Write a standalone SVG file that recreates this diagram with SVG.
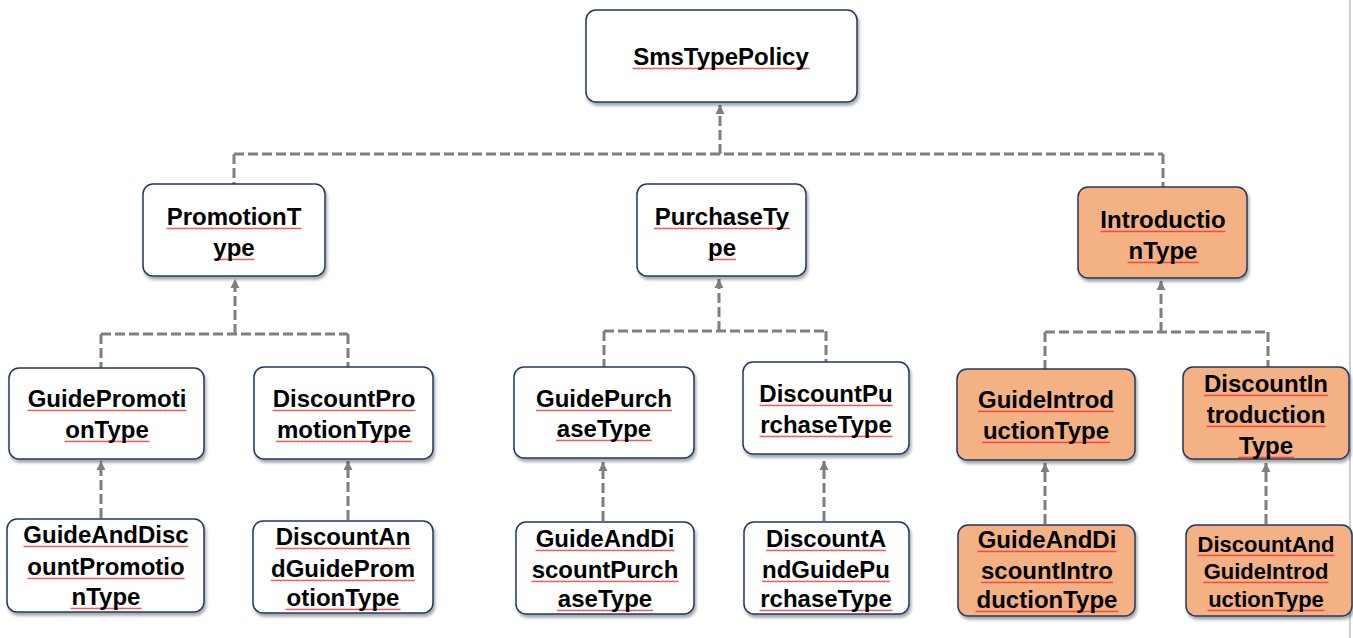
<svg xmlns="http://www.w3.org/2000/svg" width="1353" height="638" viewBox="0 0 1353 638">
<defs>
<filter id="sh" x="-10%" y="-10%" width="130%" height="140%">
<feDropShadow dx="1.5" dy="3" stdDeviation="1.8" flood-color="#000" flood-opacity="0.35"/>
</filter>
<marker id="up" markerUnits="userSpaceOnUse" markerWidth="10" markerHeight="10" refX="5" refY="0" viewBox="0 0 10 10" orient="0">
<path d="M5 0 L9.5 9 L0.5 9 Z" fill="#7f7f7f"/>
</marker>
<pattern id="wv" patternUnits="userSpaceOnUse" width="4" height="3">
<path d="M0 2.3 L1 0.7 L2 2.3 L3 0.7 L4 2.3" fill="none" stroke="#ff2a2a" stroke-width="0.8"/>
</pattern>
</defs>
<style>
.n rect{fill:#fff;stroke:#1f3864;stroke-width:1.5;filter:url(#sh)}
.o rect{fill:#f4b183}
.n rect.w{fill:url(#wv);stroke:none;filter:none}
text{font-family:"Liberation Sans",Arial,sans-serif;font-weight:bold;font-size:24px;fill:#000;text-anchor:middle}
.s text{font-size:22px}
.c path{fill:none;stroke:#7f7f7f;stroke-width:3;stroke-dasharray:10 4}
.c .a{marker-end:url(#up)}
</style>
<rect x="0" y="0" width="1353" height="638" fill="#fff"/>
<line x1="1350" y1="0" x2="1350" y2="638" stroke="#cfcfcf" stroke-width="2"/>
<g id="connectors" class="c">
<path class="a" d="M720 154 V105"/>
<path d="M234 154 H1163"/>
<path d="M234 154 V184"/>
<path d="M1163 154 V187"/>
<path class="a" d="M235 334 V279"/>
<path d="M101 334 H348"/>
<path d="M101 334 V368"/>
<path d="M348 334 V367"/>
<path class="a" d="M719 331 V279"/>
<path d="M604 331 H826"/>
<path d="M604 331 V367"/>
<path d="M826 331 V362"/>
<path class="a" d="M1161 332 V281"/>
<path d="M1045 332 H1268"/>
<path d="M1045 332 V369"/>
<path d="M1268 332 V367"/>
<path class="a" d="M101 518 V461"/>
<path class="a" d="M348 520 V461"/>
<path class="a" d="M603 521 V462"/>
<path class="a" d="M824 521 V461"/>
<path class="a" d="M1045 524 V463"/>
<path class="a" d="M1266 524 V463"/>
</g>
<g id="SmsTypePolicy" class="n"><rect x="586" y="10" width="271" height="92" rx="10"/><rect class="w" transform="translate(632.5 67)" width="177" height="3"/><text x="721" y="65">SmsTypePolicy</text></g>
<g id="PromotionType" class="n"><rect x="143" y="184" width="182" height="92" rx="10"/><rect class="w" transform="translate(166.5 227)" width="135" height="3"/><rect class="w" transform="translate(213.5 258)" width="41" height="3"/><text x="234" y="225">PromotionT</text><text x="234" y="256">ype</text></g>
<g id="PurchaseType" class="n"><rect x="637" y="184" width="169" height="92" rx="10"/><rect class="w" transform="translate(654 227)" width="136" height="3"/><rect class="w" transform="translate(708 258)" width="28" height="3"/><text x="722" y="225">PurchaseTy</text><text x="722" y="256">pe</text></g>
<g id="IntroductionType" class="n o"><rect x="1078" y="187" width="169" height="91" rx="10"/><rect class="w" transform="translate(1100.5 230)" width="125" height="3"/><rect class="w" transform="translate(1127.5 261)" width="71" height="3"/><text x="1163" y="228">Introductio</text><text x="1163" y="259">nType</text></g>
<g id="GuidePromotionType" class="n"><rect x="9" y="368" width="195" height="91" rx="10"/><rect class="w" transform="translate(27.5 409)" width="159" height="3"/><rect class="w" transform="translate(64.5 440)" width="85" height="3"/><text x="107" y="407">GuidePromoti</text><text x="107" y="438">onType</text></g>
<g id="DiscountPromotionType" class="n"><rect x="254" y="367" width="179" height="92" rx="10"/><rect class="w" transform="translate(272.5 409)" width="143" height="3"/><rect class="w" transform="translate(276 440)" width="136" height="3"/><text x="344" y="407">DiscountPro</text><text x="344" y="438">motionType</text></g>
<g id="GuidePurchaseType" class="n"><rect x="514" y="367" width="180" height="91" rx="10"/><rect class="w" transform="translate(536 409)" width="136" height="3"/><rect class="w" transform="translate(556 439)" width="96" height="3"/><text x="604" y="407">GuidePurch</text><text x="604" y="437">aseType</text></g>
<g id="DiscountPurchaseType" class="n"><rect x="743" y="362" width="166" height="92" rx="10"/><rect class="w" transform="translate(759.5 404)" width="133" height="3"/><rect class="w" transform="translate(759.5 435)" width="133" height="3"/><text x="826" y="402">DiscountPu</text><text x="826" y="433">rchaseType</text></g>
<g id="GuideIntroductionType" class="n o"><rect x="957" y="369" width="178" height="91" rx="10"/><rect class="w" transform="translate(978 410)" width="136" height="3"/><rect class="w" transform="translate(982 441)" width="128" height="3"/><text x="1046" y="408">GuideIntrod</text><text x="1046" y="439">uctionType</text></g>
<g id="DiscountIntroductionType" class="n o"><rect x="1183" y="367" width="166" height="92" rx="10"/><rect class="w" transform="translate(1204 394)" width="124" height="3"/><rect class="w" transform="translate(1206.5 425)" width="119" height="3"/><rect class="w" transform="translate(1238 456)" width="56" height="3"/><text x="1266" y="392">DiscountIn</text><text x="1266" y="423">troduction</text><text x="1266" y="454">Type</text></g>
<g id="GuideAndDiscountPromotionType" class="n"><rect x="7" y="519" width="197" height="93" rx="10"/><rect class="w" transform="translate(23.5 545)" width="165" height="3"/><rect class="w" transform="translate(27.5 577)" width="157" height="3"/><rect class="w" transform="translate(70.5 607)" width="71" height="3"/><text x="106" y="543">GuideAndDisc</text><text x="106" y="575">ountPromotio</text><text x="106" y="605">nType</text></g>
<g id="DiscountAndGuidePromotionType" class="n"><rect x="253" y="521" width="180" height="92" rx="10"/><rect class="w" transform="translate(275.5 547)" width="135" height="3"/><rect class="w" transform="translate(271 579)" width="144" height="3"/><rect class="w" transform="translate(285.5 608)" width="115" height="3"/><text x="343" y="545">DiscountAn</text><text x="343" y="577">dGuideProm</text><text x="343" y="606">otionType</text></g>
<g id="GuideAndDiscountPurchaseType" class="n"><rect x="516" y="522" width="178" height="92" rx="10"/><rect class="w" transform="translate(535.5 549)" width="139" height="3"/><rect class="w" transform="translate(531.5 580)" width="147" height="3"/><rect class="w" transform="translate(557 609)" width="96" height="3"/><text x="605" y="547">GuideAndDi</text><text x="605" y="578">scountPurch</text><text x="605" y="607">aseType</text></g>
<g id="DiscountAndGuidePurchaseType" class="n"><rect x="744" y="522" width="165" height="92" rx="10"/><rect class="w" transform="translate(766 549)" width="120" height="3"/><rect class="w" transform="translate(762 580)" width="128" height="3"/><rect class="w" transform="translate(759.5 609)" width="133" height="3"/><text x="826" y="547">DiscountA</text><text x="826" y="578">ndGuidePu</text><text x="826" y="607">rchaseType</text></g>
<g id="GuideAndDiscountIntroductionType" class="n o"><rect x="958" y="525" width="177" height="91" rx="10"/><rect class="w" transform="translate(977.5 550)" width="139" height="3"/><rect class="w" transform="translate(981 581)" width="132" height="3"/><rect class="w" transform="translate(975.5 610)" width="143" height="3"/><text x="1047" y="548">GuideAndDi</text><text x="1047" y="579">scountIntro</text><text x="1047" y="608">ductionType</text></g>
<g id="DiscountAndGuideIntroductionType" class="n o s"><rect x="1186" y="525" width="166" height="91" rx="10"/><rect class="w" transform="translate(1197.5 554)" width="137" height="3"/><rect class="w" transform="translate(1203.5 581)" width="125" height="3"/><rect class="w" transform="translate(1207.5 609)" width="117" height="3"/><text x="1266" y="552">DiscountAnd</text><text x="1266" y="579">GuideIntrod</text><text x="1266" y="607">uctionType</text></g>
</svg>
